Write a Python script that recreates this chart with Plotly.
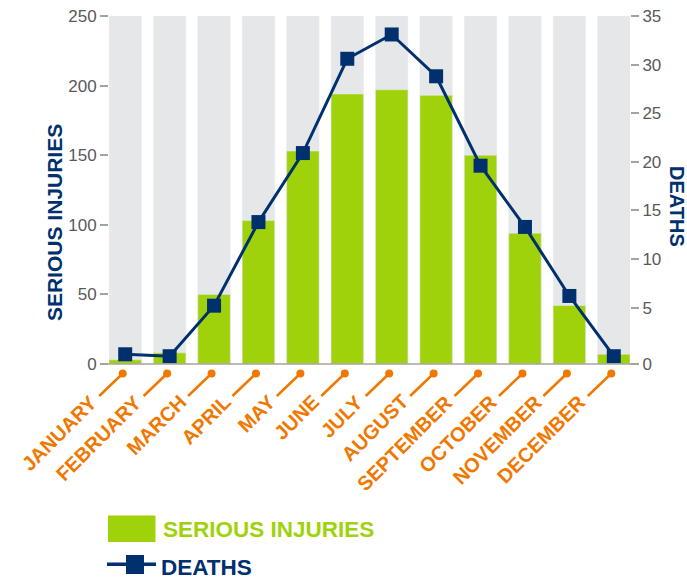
import plotly.graph_objects as go

# ---- data ----
months = ["JANUARY", "FEBRUARY", "MARCH", "APRIL", "MAY", "JUNE", "JULY",
          "AUGUST", "SEPTEMBER", "OCTOBER", "NOVEMBER", "DECEMBER"]
serious_injuries = [3, 8, 50, 103, 153, 194, 197, 193, 150, 94, 42, 7]
deaths = [0.2, 0, 5.2, 13.8, 20.9, 30.6, 33.1, 28.8, 19.6, 13.3, 6.2, 0]
injury_ticks = [0, 50, 100, 150, 200, 250]
death_ticks = [0, 5, 10, 15, 20, 25, 30, 35]

# ---- styles ----
GREEN = "#a0d20b"
NAVY = "#00306e"
ORANGE = "#f07800"
BG_BAR = "#e6e7e9"
AXIS_GRAY = "#a3a3a3"
TICK_TXT = "#595959"
FONT = "Liberation Sans, Arial, sans-serif"

Y1_MAX = injury_ticks[-1]
Y2_MIN = -0.8
Y2_MAX = death_ticks[-1]
BAR_FRAC = 0.73
X_RANGE = [-BAR_FRAC / 2, len(months) - 1 + BAR_FRAC / 2]

W, H = 687, 582
ML, MR, MT, MB = 109, 57, 16, 218
PLOT_W = W - ML - MR

fig = go.Figure()

# background full-height bars
fig.add_trace(go.Bar(x=months, y=[Y1_MAX] * len(months), marker_color=BG_BAR,
                     showlegend=False, hoverinfo="skip", yaxis="y"))
# serious injuries
fig.add_trace(go.Bar(x=months, y=serious_injuries, marker_color=GREEN,
                     name="SERIOUS INJURIES", yaxis="y"))
# deaths
fig.add_trace(go.Scatter(x=months, y=deaths, mode="lines+markers", name="DEATHS",
                         line=dict(color=NAVY, width=3),
                         marker=dict(symbol="square", size=14, color=NAVY),
                         yaxis="y2", cliponaxis=False))

shapes = []
annotations = []

# baseline (slightly wider than the plot area)
shapes.append(dict(type="line", xref="paper", yref="paper",
                   xsizemode="pixel", ysizemode="pixel", xanchor=0, yanchor=0,
                   x0=-9, x1=PLOT_W + 3, y0=0, y1=0,
                   line=dict(color=AXIS_GRAY, width=1.5)))

span = X_RANGE[1] - X_RANGE[0]
for i, m in enumerate(months):
    px = (i - X_RANGE[0]) / span
    # connector line
    shapes.append(dict(type="line", xref="paper", yref="paper",
                       xsizemode="pixel", ysizemode="pixel",
                       xanchor=px, yanchor=0,
                       x0=-2.5, y0=-9.5, x1=-26, y1=-32,
                       line=dict(color=ORANGE, width=2.5)))
    # dot
    shapes.append(dict(type="circle", xref="paper", yref="paper",
                       xsizemode="pixel", ysizemode="pixel",
                       xanchor=px, yanchor=0,
                       x0=-6.5, x1=1.5, y0=-5.5, y1=-13.5,
                       fillcolor=ORANGE, line=dict(color=ORANGE, width=0)))
    annotations.append(dict(x=m, xref="x", y=0, yref="paper", text=m,
                            showarrow=False, textangle=-45,
                            xanchor="right", yanchor="top",
                            xshift=-21, yshift=-24,
                            font=dict(family=FONT, size=20, color=ORANGE,
                                      weight="bold")))

# axis titles
annotations.append(dict(x=0, xref="paper", xshift=-55, y=0.405, yref="paper",
                        text="<b>SERIOUS INJURIES</b>", textangle=-90,
                        showarrow=False, xanchor="center", yanchor="middle",
                        font=dict(family=FONT, size=21, color=NAVY)))
annotations.append(dict(x=1, xref="paper", xshift=46.5, y=0.4526, yref="paper",
                        text="<b>DEATHS</b>", textangle=90,
                        showarrow=False, xanchor="center", yanchor="middle",
                        font=dict(family=FONT, size=20, color=NAVY)))

# custom legend
shapes.append(dict(type="rect", xref="paper", yref="paper",
                   xsizemode="pixel", ysizemode="pixel", xanchor=0, yanchor=0,
                   x0=-1, x1=46.5, y0=-151.5, y1=-178,
                   fillcolor=GREEN, line=dict(width=0)))
annotations.append(dict(x=0, xref="paper", xshift=52, y=0, yref="paper",
                        yshift=-165.5, text="<b>SERIOUS INJURIES</b>",
                        showarrow=False, xanchor="left", yanchor="middle",
                        font=dict(family=FONT, size=22.5, color=GREEN)))
shapes.append(dict(type="line", xref="paper", yref="paper",
                   xsizemode="pixel", ysizemode="pixel", xanchor=0, yanchor=0,
                   x0=-2, x1=47, y0=-200.3, y1=-200.3,
                   line=dict(color=NAVY, width=3.5)))
shapes.append(dict(type="rect", xref="paper", yref="paper",
                   xsizemode="pixel", ysizemode="pixel", xanchor=0, yanchor=0,
                   x0=17, x1=35, y0=-191, y1=-210,
                   fillcolor=NAVY, line=dict(width=0)))
annotations.append(dict(x=0, xref="paper", xshift=50, y=0, yref="paper",
                        yshift=-203.5, text="<b>DEATHS</b>",
                        showarrow=False, xanchor="left", yanchor="middle",
                        font=dict(family=FONT, size=22.5, color=NAVY)))

death_tickvals = [Y2_MIN if t == 0 else t for t in death_ticks]

fig.update_layout(
    width=W, height=H, autosize=False,
    margin=dict(l=ML, r=MR, t=MT, b=MB, pad=0, autoexpand=False),
    paper_bgcolor="white", plot_bgcolor="white",
    barmode="overlay", bargap=1 - BAR_FRAC,
    showlegend=False,
    font=dict(family=FONT, size=17, color=TICK_TXT),
    xaxis=dict(type="category", range=X_RANGE, showticklabels=False,
               showline=False, ticks="", showgrid=False, zeroline=False,
               fixedrange=True, automargin=False),
    yaxis=dict(range=[0, Y1_MAX], tickvals=injury_ticks, ticks="outside",
               ticklen=8, tickwidth=1.5, tickcolor=AXIS_GRAY,
               showgrid=False, zeroline=False, showline=False, automargin=False,
               tickfont=dict(family=FONT, size=17, color=TICK_TXT)),
    yaxis2=dict(range=[Y2_MIN, Y2_MAX], overlaying="y", side="right",
                tickvals=death_tickvals, ticktext=[str(t) for t in death_ticks],
                ticks="outside", ticklen=8, tickwidth=1.5, tickcolor=AXIS_GRAY,
                showgrid=False, zeroline=False, showline=False, automargin=False,
                tickfont=dict(family=FONT, size=17, color=TICK_TXT)),
    shapes=shapes,
    annotations=annotations,
)

# remove the default 8px page margin so the figure sits at the window origin
fig.write_html("out.html",
               config={"displayModeBar": False, "responsive": False},
               post_script="document.body.style.margin='0px';"
                           "document.body.style.overflow='hidden';")
